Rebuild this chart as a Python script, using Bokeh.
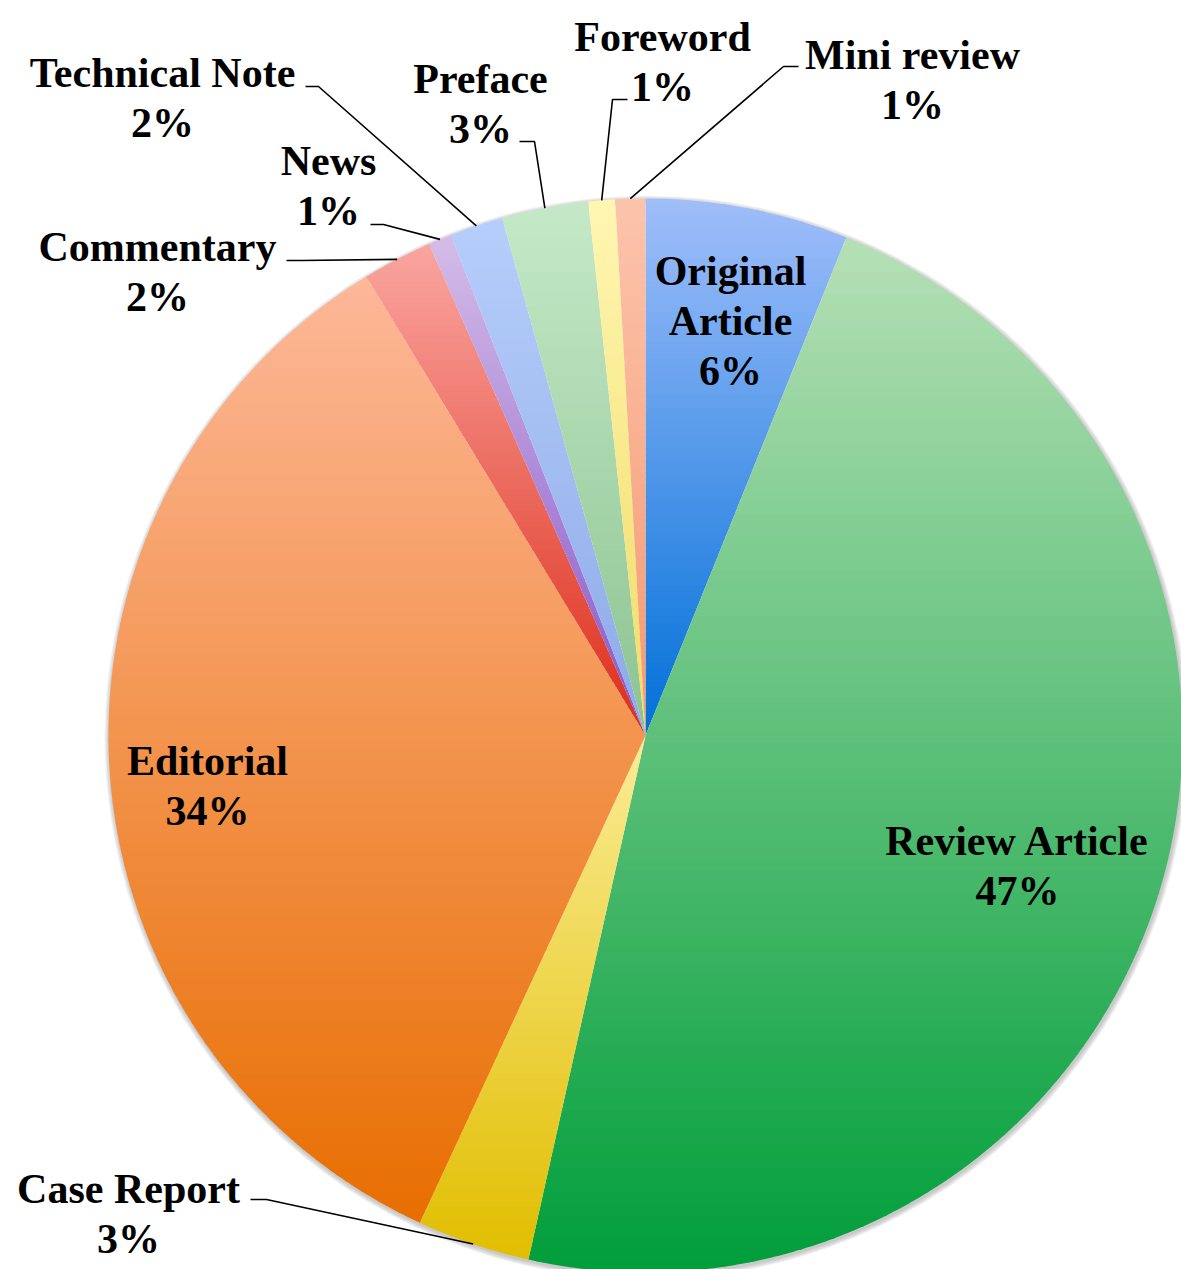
import numpy as np
from bokeh.plotting import figure
from bokeh.models import Range1d
from bokeh.core.properties import value
from bokeh.embed import file_html
from bokeh.resources import INLINE

# ---------------- data ----------------
categories = ["Original Article", "Review Article", "Case Report", "Editorial",
              "Commentary", "News", "Technical Note", "Preface", "Foreword", "Mini review"]
shares = [6.1, 47.4, 3.4, 34.4, 2.1, 0.7, 1.6, 2.6, 0.8, 0.9]
name_lines = [["Original", "Article"], ["Review Article"], ["Case Report"], ["Editorial"],
              ["Commentary"], ["News"], ["Technical Note"], ["Preface"], ["Foreword"], ["Mini review"]]

# ---------------- style / layout ----------------
top_colors = [(160, 190, 250), (182, 224, 182), (250, 236, 150), (253, 184, 153),
              (250, 165, 160), (212, 188, 232), (182, 206, 250), (197, 233, 200),
              (255, 246, 178), (252, 196, 172)]
bottom_colors = [(0, 112, 216), (0, 158, 58), (225, 190, 0), (232, 110, 0),
                 (220, 45, 25), (135, 85, 200), (140, 170, 232), (140, 195, 145),
                 (240, 220, 100), (245, 152, 112)]
# first-line label centre for each category
label_pos = [(730, 270), (1017, 840), (128, 1188), (207, 760), (157, 246),
             (328, 160), (162, 72), (480, 78), (662, 36), (912, 54)]
# leader: (start x, elbow x, y) or None
leaders = [None, None, (250, 266, 1199), None, (286, 300, 260),
           (370, 383, 224), (305, 318, 86), (519, 534, 141), (627, 612, 99), (798, 783, 66)]
CX, CY, R = 645, 735, 537
FONT = "Liberation Serif"
FS = "42px"
LINE_H = 50

W, H = 1181, 1269
p = figure(width=W, height=H, x_range=Range1d(0, W), y_range=Range1d(H, 0),
           output_backend="svg", toolbar_location=None, min_border=0)
p.axis.visible = False
p.grid.visible = False
p.outline_line_color = None
p.background_fill_color = "white"
p.border_fill_color = "white"

# soft shadow
for k in range(1, 6):
    p.annulus(x=[CX + 1], y=[CY + 2], inner_radius=R - 3, outer_radius=R + k,
              fill_color="#555555", fill_alpha=0.07, line_color=None)


def clip(poly, y0, keep_above):
    out = []
    n = len(poly)
    for i in range(n):
        P = poly[i]
        Q = poly[(i + 1) % n]
        inP = P[1] >= y0 if keep_above else P[1] <= y0
        inQ = Q[1] >= y0 if keep_above else Q[1] <= y0
        if inP:
            out.append(P)
        if inP != inQ:
            t = (y0 - P[1]) / (Q[1] - P[1])
            out.append((P[0] + t * (Q[0] - P[0]), y0))
    return out


total = sum(shares)
cum = np.concatenate([[0], np.cumsum(shares)]) / total * 2 * np.pi
xs, ys, cols = [], [], []
mids = []
for i, cat in enumerate(categories):
    a0, a1 = cum[i], cum[i + 1]
    mids.append((a0 + a1) / 2)
    n = max(4, int((a1 - a0) / (2 * np.pi) * 720))
    th = np.linspace(a0, a1, n)
    poly = [(CX, CY)] + [(CX + R * np.sin(t), CY - R * np.cos(t)) for t in th]
    ymin = min(q[1] for q in poly)
    ymax = max(q[1] for q in poly)
    N = 90
    h = (ymax - ymin) / N
    c0 = np.array(top_colors[i], float)
    c1 = np.array(bottom_colors[i], float)
    for k in range(N):
        ya = ymin + k * h - 0.5
        yb = ymin + (k + 1) * h + 0.5
        band = clip(clip(poly, ya, True), yb, False)
        if len(band) < 3:
            continue
        t = (k + 0.5) / N
        c = (1 - t) * c0 + t * c1
        xs.append([q[0] for q in band])
        ys.append([q[1] for q in band])
        cols.append("#%02x%02x%02x" % tuple(int(round(v)) for v in c))

p.patches(xs=xs, ys=ys, fill_color=cols, line_color=None)

# leader lines
for i, ld in enumerate(leaders):
    if ld is None:
        continue
    xa, xe, yl = ld
    ex = CX + R * np.sin(mids[i])
    ey = CY - R * np.cos(mids[i])
    p.line(x=[xa, xe, ex], y=[yl, yl, ey], line_color="black", line_width=1.6)

# labels
tx, ty, tt = [], [], []
for i, cat in enumerate(categories):
    lx, ly = label_pos[i]
    lines = name_lines[i] + ["%d%%" % int(round(shares[i] / total * 100))]
    for j, s in enumerate(lines):
        tx.append(lx)
        ty.append(ly + j * LINE_H)
        tt.append(s)
p.text(x=tx, y=ty, text=tt, text_font=value(FONT), text_font_style="bold",
       text_font_size=FS, text_align="center", text_baseline="middle", text_color="black")

open("out.html", "w").write(file_html(p, INLINE))
